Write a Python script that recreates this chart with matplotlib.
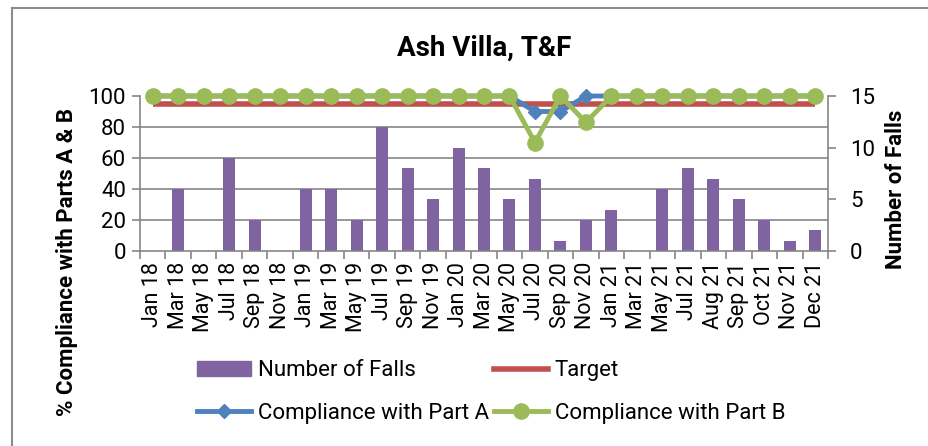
import numpy as np
import matplotlib
matplotlib.use("Agg")
import matplotlib.pyplot as plt
from matplotlib.patches import Patch, Rectangle
from matplotlib.lines import Line2D
from matplotlib.ticker import MultipleLocator

plt.rcParams['font.family'] = ['Roboto', 'DejaVu Sans']

months = ["Jan 18", "Mar 18", "May 18", "Jul 18", "Sep 18", "Nov 18",
          "Jan 19", "Mar 19", "May 19", "Jul 19", "Sep 19", "Nov 19",
          "Jan 20", "Mar 20", "May 20", "Jul 20", "Sep 20", "Nov 20",
          "Jan 21", "Mar 21", "May 21", "Jul 21", "Aug 21", "Sep 21",
          "Oct 21", "Nov 21", "Dec 21"]
falls = [0, 6, 0, 9, 3, 0, 6, 6, 3, 12, 8, 5, 10, 8, 5, 7, 1, 3,
         4, 0, 6, 8, 7, 5, 3, 1, 2]
target = [95] * 27
part_a = [100] * 15 + [90, 90, 100] + [100] * 9
part_b = [100] * 15 + [70, 100, 83] + [100] * 9

purple = "#8064A2"
red = "#C0504D"
blue = "#4F81BD"
green = "#9BBB59"
grey = "#868686"

x = np.arange(len(months))

fig = plt.figure(figsize=(9.29, 4.46), dpi=100)
ax2 = fig.add_axes([140/929, 1-251/446, (828-140)/929, (251-96)/446])
ax = ax2.twinx()
# lines sit above the bars
ax.set_zorder(ax2.get_zorder() + 1)
ax.patch.set_visible(False)

# bars on the falls scale (right)
ax2.bar(x, falls, width=0.47, color=purple, zorder=2)
ax2.set_ylim(0, 15)
ax2.yaxis.set_minor_locator(MultipleLocator(3))
ax2.grid(which='minor', axis='y', color=grey, lw=1.2, zorder=0)
ax2.set_axisbelow(True)

# compliance lines on the percent scale (left)
ax.plot(x, target, color=red, lw=4, solid_capstyle='butt', zorder=3, clip_on=False)
ax.plot(x, part_a, color=blue, lw=3.5, marker='D', ms=7.5, zorder=4, clip_on=False)
ax.plot(x, part_b, color=green, lw=3.5, marker='o', ms=11, zorder=5, clip_on=False)
ax.set_ylim(0, 100)

# twinx puts the percent axis on the right; swap sides
ax.yaxis.tick_left()
ax2.yaxis.tick_right()
ax.set_yticks(np.arange(0, 101, 20))
ax2.set_yticks([0, 5, 10, 15])
ax2.tick_params(axis='y', which='minor', length=0)

ax2.set_xlim(-0.5, len(months) - 0.5)
ax2.set_xticks(np.arange(-0.5, len(months), 1))
ax2.set_xticklabels([])
ax2.set_xticks(x, minor=True)
ax2.set_xticklabels(months, minor=True, rotation=90, fontsize=15.5)
ax2.tick_params(axis='x', which='major', length=6, color=grey, width=1.2)
ax2.tick_params(axis='x', which='minor', length=0, pad=8)

for a in (ax, ax2):
    for s in a.spines.values():
        s.set_visible(False)
for a, side in ((ax2, 'bottom'), (ax, 'left'), (ax2, 'right')):
    a.spines[side].set_visible(True)
    a.spines[side].set_color(grey)
    a.spines[side].set_linewidth(1.2)

ax.tick_params(axis='y', length=6, color=grey, width=1.2, labelsize=16, pad=4)
ax2.tick_params(axis='y', which='major', length=6, color=grey, width=1.2, labelsize=16, pad=10)

fig.text(67/929, 1-262/446, "% Compliance with Parts A & B", rotation=90,
         ha='center', va='center', fontsize=16, fontweight='bold')
fig.text(896/929, 1-189/446, "Number of Falls", rotation=90,
         ha='center', va='center', fontsize=16, fontweight='bold')

fig.text(484/929, 1-48/446, "Ash Villa, T&F", ha='center', va='center',
         fontsize=20, fontweight='bold')

handles = [Patch(color=purple),
           Line2D([], [], color=blue, lw=3.5, marker='D', ms=7.5),
           Line2D([], [], color=red, lw=4),
           Line2D([], [], color=green, lw=3.5, marker='o', ms=11)]
labels = ["Number of Falls", "Compliance with Part A", "Target", "Compliance with Part B"]
fig.legend(handles, labels, ncol=2, loc='center', bbox_to_anchor=(491/929, 1-392/446),
           frameon=False, fontsize=16, handlelength=2.45, handleheight=0.65,
           handletextpad=0.3, columnspacing=0.2, labelspacing=0.95)

# chart frame
fig.patches.append(Rectangle((12/929, -0.1), 1.1, 1.1 - 8/446, transform=fig.transFigure,
                             fill=False, edgecolor="#8c8c8c", lw=1.5))

fig.savefig("out.png", dpi=100)
